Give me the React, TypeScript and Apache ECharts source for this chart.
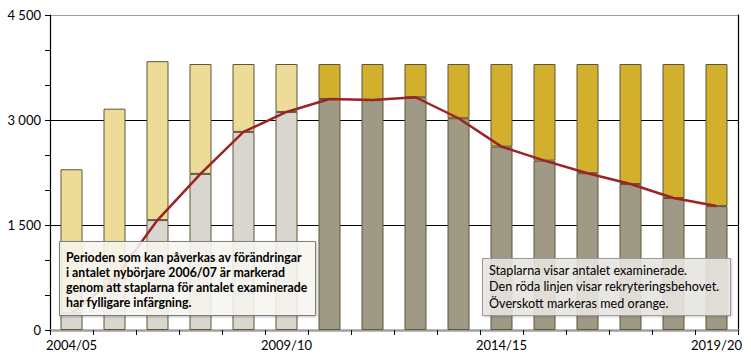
import React, { useEffect, useRef } from "react";
import * as echarts from "echarts";

const categories = [
  "2004/05", "2005/06", "2006/07", "2007/08", "2008/09", "2009/10", "2010/11", "2011/12",
  "2012/13", "2013/14", "2014/15", "2015/16", "2016/17", "2017/18", "2018/19", "2019/20",
];
// Antal examinerade (bar total)
const examinerade = [2296, 3162, 3840, 3800, 3800, 3800, 3800, 3800, 3800, 3800, 3800, 3800, 3800, 3800, 3800, 3800];
// Rekryteringsbehov (red line)
const rekryteringsbehov = [240, 730, 1570, 2230, 2830, 3115, 3300, 3285, 3325, 3025, 2620, 2420, 2240, 2085, 1885, 1770];
const yTicks = [0, 1500, 3000, 4500];
const lightBarCount = 6;

const FONT = "Lato, 'DejaVu Sans', sans-serif";

export default function App() {
  const ref = useRef<HTMLDivElement>(null);
  useEffect(() => {
    if (!ref.current) return;
    const chart = echarts.init(ref.current, undefined, { renderer: "svg" });
    const covered = rekryteringsbehov.map((v, i) => Math.min(v, examinerade[i]));
    const surplus = examinerade.map((v, i) => v - covered[i]);
    const fmt = (v: number) => String(v).replace(/\B(?=(\d{3})+(?!\d))/g, " ");
    chart.setOption({
      animation: false,
      textStyle: { fontFamily: FONT },
      grid: { left: 50, right: 13, top: 15, bottom: 27, containLabel: false },
      xAxis: {
        type: "category",
        data: categories,
        boundaryGap: true,
        axisLine: { show: true, lineStyle: { color: "#a0a0a0", width: 2.5 } },
        axisTick: { show: true, inside: false, length: 5, lineStyle: { color: "#000", width: 1 }, interval: 0 },
        axisLabel: {
          interval: (i: number) => i % 5 === 0,
          color: "#000",
          fontSize: 13,
          fontFamily: FONT,
          margin: 8,
        },
        splitLine: { show: false },
      },
      yAxis: [
        {
          type: "value",
          min: 0,
          max: 4500,
          interval: 1500,
          axisLine: { show: true, lineStyle: { color: "#000", width: 1.2 } },
          axisTick: { show: true, length: 5, lineStyle: { color: "#000" } },
          minorTick: { show: true, splitNumber: 3, length: 5, lineStyle: { color: "#000" } },
          axisLabel: {
            color: "#000",
            fontSize: 13,
            fontFamily: FONT,
            margin: 9,
            formatter: (v: number) => (yTicks.includes(v) ? fmt(v) : ""),
          },
          splitLine: {
            show: true,
            lineStyle: { color: ["#000", "#000", "#000", "#a0a0a0"], width: [1, 1.2, 1.2, 2] as any },
          },
        },
        {
          type: "value",
          min: 0,
          max: 4500,
          interval: 1500,
          position: "right",
          axisLine: { show: true, lineStyle: { color: "#000", width: 1.2 } },
          axisTick: { show: false },
          axisLabel: { show: false },
          splitLine: { show: false },
        },
      ],
      series: [
        {
          name: "Täckt behov",
          type: "bar",
          stack: "ex",
          barWidth: 22,
          data: covered,
          itemStyle: {
            color: (p: any) => (p.dataIndex < lightBarCount ? "#d9d6cf" : "#9e9a86"),
            borderColor: "#5e5636",
            borderWidth: 1,
          },
          z: 2,
        },
        {
          name: "Överskott",
          type: "bar",
          stack: "ex",
          barWidth: 22,
          data: surplus,
          itemStyle: {
            color: (p: any) => (p.dataIndex < lightBarCount ? "#ecdc98" : "#d2b02e"),
            borderColor: "#5e5636",
            borderWidth: 1,
          },
          z: 2,
        },
        {
          name: "Rekryteringsbehov",
          type: "line",
          data: rekryteringsbehov,
          showSymbol: false,
          symbol: "none",
          lineStyle: { color: "#9b2326", width: 2.5 },
          z: 5,
        },
      ],
      graphic: [
        {
          type: "group",
          z: 100,
          children: [
            {
              type: "rect",
              shape: { x: 59.5, y: 241.5, width: 256, height: 74 },
              style: { fill: "rgba(250,248,242,0.86)", stroke: "#7d7d7d", lineWidth: 1, shadowBlur: 2, shadowColor: "rgba(0,0,0,0.25)", shadowOffsetX: 1, shadowOffsetY: 1 },
              z: 100,
            },
            {
              type: "text",
              x: 66,
              y: 250,
              z: 101,
              style: {
                text: "Perioden som kan påverkas av förändringar\ni antalet nybörjare 2006/07 är markerad\ngenom att staplarna för antalet examinerade\nhar fylligare infärgning.",
                font: `bold 12.3px ${FONT}`,
                fill: "#000",
                lineHeight: 15,
              },
            },
            {
              type: "rect",
              shape: { x: 482.5, y: 258.5, width: 248, height: 57 },
              style: { fill: "rgba(233,231,226,0.88)", stroke: "#9a9a9a", lineWidth: 1, shadowBlur: 2, shadowColor: "rgba(0,0,0,0.2)", shadowOffsetX: 1, shadowOffsetY: 1 },
              z: 100,
            },
            {
              type: "text",
              x: 489,
              y: 262,
              z: 101,
              style: {
                text: "Staplarna visar antalet examinerade.\nDen röda linjen visar rekryteringsbehovet.\nÖverskott markeras med orange.",
                font: `12.6px ${FONT}`,
                fill: "#000",
                lineHeight: 16.5,
              },
            },
          ],
        },
      ],
    });
    return () => chart.dispose();
  }, []);
  return <div ref={ref} style={{ width: 751, height: 357, position: "absolute", left: 0, top: 0 }} />;
}
